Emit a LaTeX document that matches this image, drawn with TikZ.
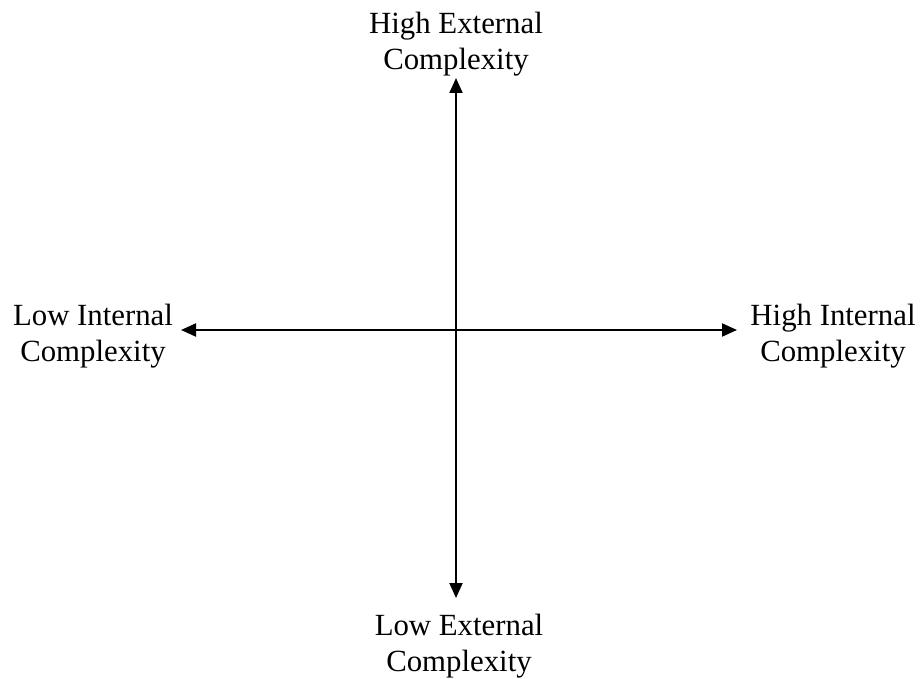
\documentclass[tikz,border=0pt]{standalone}
\usepackage{fontspec}
\setmainfont{Liberation Serif}
\usepackage{tikz}
\usetikzlibrary{arrows.meta, positioning}

\begin{document}
\begin{tikzpicture}[
    x=0.5pt, y=-0.5pt,
    label/.style={align=center, inner sep=0pt, font=\fontsize{15.4}{18}\selectfont},
    axis/.style={{Triangle[length=7.5pt, width=6.5pt]}-{Triangle[length=7.5pt, width=6.5pt]}, line width=1pt}
]
    \useasboundingbox (0,0) rectangle (920,679);

    % axis ends
    \coordinate (top)    at (456,78);
    \coordinate (bottom) at (456,598);
    \coordinate (left)   at (181,330);
    \coordinate (right)  at (737,330);

    \node[label] (hext) at (456,44)  {High External\\Complexity};
    \node[label] (lext) at (459,646) {Low External\\Complexity};
    \node[label] (lint) at (93,336)  {Low Internal\\Complexity};
    \node[label] (hint) at (833,336) {High Internal\\Complexity};

    \draw[axis] (bottom) -- (top);
    \draw[axis] (left) -- (right);
\end{tikzpicture}
\end{document}
